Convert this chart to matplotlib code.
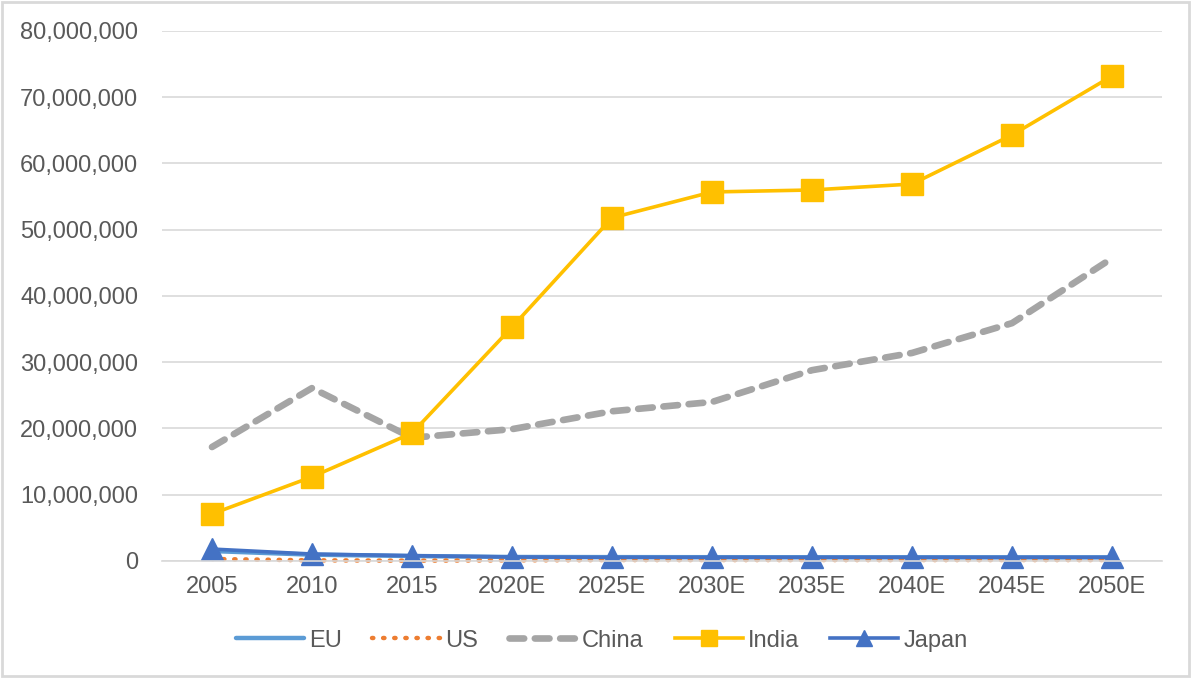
import matplotlib
matplotlib.use("Agg")
import matplotlib.pyplot as plt
from matplotlib.patches import Rectangle
from matplotlib.ticker import FuncFormatter

plt.rcParams["font.family"] = ["Liberation Sans", "DejaVu Sans"]

YEARS = ["2005", "2010", "2015", "2020E", "2025E", "2030E",
         "2035E", "2040E", "2045E", "2050E"]
EU = [1500000, 950000, 750000, 600000, 580000, 570000, 560000, 560000, 550000, 550000]
US = [300000, 100000, 50000, 100000, 150000, 150000, 150000, 150000, 150000, 150000]
CHINA = [17200000, 26100000, 18600000, 19900000, 22600000, 24000000,
         28800000, 31400000, 35900000, 45700000]
INDIA = [7100000, 12700000, 19300000, 35300000, 51800000, 55700000,
         56000000, 56900000, 64300000, 73200000]
JAPAN = [1800000, 1050000, 800000, 600000, 550000, 550000, 550000, 550000, 550000, 550000]

TXT = "#595959"
GRID = "#D9D9D9"

fig = plt.figure(figsize=(11.91, 6.78), dpi=100)
ax = fig.add_axes([0.136, 0.1726, 0.8397, 0.7817])

x = list(range(len(YEARS)))
ax.plot(x, EU, color="#5B9BD5", lw=3.2, label="EU", solid_capstyle="round",
        clip_on=False)
ax.plot(x, US, color="#ED7D31", lw=3.2, ls=(0, (0.3, 2.2)),
        dash_capstyle="round", label="US", clip_on=False)
ax.plot(x, CHINA, color="#A5A5A5", lw=4.8, ls=(0, (2.2, 1.6)),
        dash_capstyle="round", label="China")
ax.plot(x, INDIA, color="#FFC000", lw=2.6, marker="s", ms=15.5,
        label="India", clip_on=False)
ax.plot(x, JAPAN, color="#4472C4", lw=2.6, marker="^", ms=16,
        label="Japan", clip_on=False)

ax.set_xlim(-0.5, len(YEARS) - 0.5)
ax.set_ylim(0, 80000000)
ax.set_yticks(range(0, 80000001, 10000000))
ax.yaxis.set_major_formatter(FuncFormatter(lambda v, p: f"{int(v):,}"))
ax.set_xticks(x)
ax.set_xticklabels(YEARS)
ax.grid(axis="y", color=GRID, lw=1.2)
ax.set_axisbelow(True)
for s in ["top", "right", "left"]:
    ax.spines[s].set_visible(False)
ax.spines["bottom"].set_color(GRID)
ax.spines["bottom"].set_linewidth(1.2)
ax.tick_params(axis="both", length=0, labelsize=17, labelcolor=TXT)
ax.tick_params(axis="y", pad=17)
ax.tick_params(axis="x", pad=11)

leg = fig.legend(loc="center", bbox_to_anchor=(0.505, 0.055), ncol=5,
                 frameon=False, fontsize=17, handlelength=2.9,
                 columnspacing=1.3, handletextpad=0.2, markerscale=0.7)
for t in leg.get_texts():
    t.set_color(TXT)

fig.patches.append(Rectangle((0.002, 0.003), 0.996, 0.994, transform=fig.transFigure,
                             fill=False, edgecolor=GRID, lw=2))

fig.savefig("out.png", dpi=100)
